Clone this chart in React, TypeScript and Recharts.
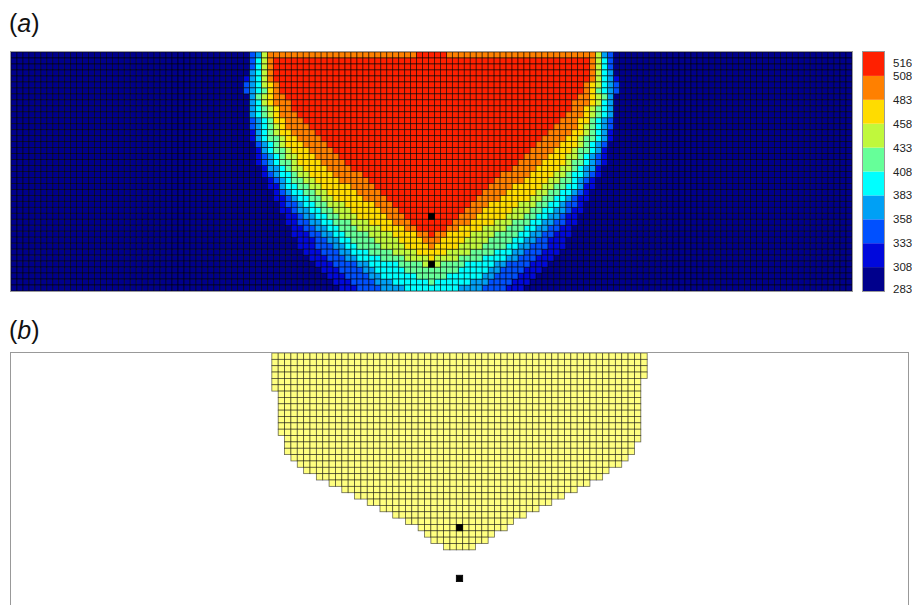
import React from 'react';
import { ScatterChart, Scatter, XAxis, YAxis, BarChart, Bar } from 'recharts';

const N_COLS = 141;
const N_ROWS = 40;
const MID_COL = 70;

// colour bar: tick labels (K) and the colour of each band between them
const tempTicks = [283, 308, 333, 358, 383, 408, 433, 458, 483, 508, 516];
const bandColors = ['#00008c', '#0008dc', '#0050ff', '#00a0f5', '#00ffff', '#66ff99', '#c0f83c', '#ffdc00', '#ff8000', '#ff2000'];

// first column (left side) where each isotherm is exceeded, per row; right side mirrors about column 70
// null = the row never reaches that temperature
const iso308 = [40, 40, 40, 40, 39, 39, 39, 40, 40, 40, 40, 40, 40, 40, 40, 41, 41, 41, 41, 42, 42, 43, 43, 44, 44, 45, 45, 46, 46, 47, 47, 48, 48, 49, 50, 51, 52, 53, 54, 55];
const iso333 = [40, 40, 40, 40, 40, 39, 39, 40, 40, 40, 40, 40, 40, 41, 41, 41, 42, 42, 42, 43, 43, 44, 45, 45, 46, 46, 47, 48, 48, 49, 50, 51, 51, 52, 53, 54, 55, 56, 57, 58];
const iso358 = [41, 41, 41, 40, 40, 40, 40, 40, 40, 40, 40, 41, 41, 41, 41, 42, 42, 43, 43, 43, 44, 45, 45, 46, 47, 48, 48, 49, 50, 51, 52, 53, 54, 55, 56, 58, 59, 60, 61, 62];
const iso383 = [42, 41, 41, 41, 41, 41, 41, 41, 41, 41, 41, 42, 42, 42, 42, 43, 43, 44, 44, 45, 45, 46, 46, 47, 48, 49, 50, 51, 52, 53, 54, 55, 56, 57, 58, 60, 61, 62, 64, 66];
const iso408 = [42, 42, 42, 42, 42, 42, 42, 41, 42, 42, 42, 43, 43, 43, 43, 44, 44, 45, 45, 46, 47, 47, 48, 49, 50, 51, 52, 53, 54, 55, 56, 57, 58, 60, 62, 65, 66, 68, 70, null];
const iso433 = [42, 42, 42, 42, 42, 42, 43, 42, 42, 43, 43, 44, 44, 44, 45, 45, 46, 46, 47, 47, 48, 49, 50, 51, 52, 53, 54, 55, 57, 58, 60, 61, 62, 64, 66, 69, null, null, null, null];
const iso458 = [43, 43, 43, 43, 43, 43, 43, 43, 43, 44, 44, 44, 45, 45, 46, 46, 47, 48, 48, 49, 50, 51, 52, 53, 54, 56, 57, 58, 60, 62, 64, 65, 66, 68, 70, null, null, null, null, null];
const iso483 = [43, 43, 43, 43, 43, 44, 44, 44, 44, 45, 45, 46, 46, 47, 48, 49, 50, 51, 52, 53, 54, 55, 57, 58, 59, 61, 62, 63, 64, 66, 68, 69, 70, null, null, null, null, null, null, null];
const iso508 = [68, 44, 44, 44, 44, 45, 45, 46, 47, 47, 48, 49, 50, 51, 52, 53, 54, 55, 56, 57, 59, 60, 61, 62, 63, 64, 65, 66, 67, 68, 70, null, null, null, null, null, null, null, null, null];

// panel (b): first / last yellow column per row
const meltStart = [41, 41, 41, 41, 41, 41, 42, 42, 42, 42, 42, 42, 42, 43, 43, 43, 44, 45, 46, 48, 50, 52, 54, 56, 58, 60, 62, 64, 65, 66, 68];
const meltEnd = [99, 99, 99, 99, 98, 98, 98, 98, 98, 98, 98, 98, 98, 98, 97, 97, 96, 95, 93, 92, 90, 88, 86, 84, 82, 80, 78, 77, 75, 74, 72];

// probe points (row index, on the centre column)
const probeRows = [27, 35];

const isotherms = [iso308, iso333, iso358, iso383, iso408, iso433, iso458, iso483, iso508];

const fieldCells: { x: number; y: number }[][] = bandColors.map(() => []);
for (let r = 0; r < N_ROWS; r++) {
  for (let c = 0; c < N_COLS; c++) {
    let lvl = 0;
    isotherms.forEach((iso) => {
      const s = iso[r];
      if (s !== null && c >= s && c <= 2 * MID_COL - s) lvl++;
    });
    fieldCells[lvl].push({ x: c + 0.5, y: r + 0.5 });
  }
}

const meltCells: { x: number; y: number }[] = [];
meltStart.forEach((s, r) => {
  for (let c = s; c <= meltEnd[r]; c++) meltCells.push({ x: c + 0.5, y: r + 0.5 });
});

const probes = probeRows.map((r) => ({ x: MID_COL + 0.5, y: r + 0.5 }));

const A_W = 841, A_H = 239;
const B_W = 897, B_H = 254;

const cellShape = (w: number, h: number, color: string, edgeOpacity: number) => (props: any) => (
  <rect
    x={props.cx - w / 2}
    y={props.cy - h / 2}
    width={w}
    height={h}
    fill={color}
    stroke="#000"
    strokeOpacity={edgeOpacity}
    strokeWidth={0.8}
  />
);

const FONT = '"Liberation Sans", Arial, sans-serif';

const PanelLabel = ({ letter, top }: { letter: string; top: number }) => (
  <div style={{ position: 'absolute', left: 9, top, fontFamily: FONT, fontSize: 25, lineHeight: 1, color: '#111' }}>
    (<i>{letter}</i>)
  </div>
);

const ColorbarTick = (props: any) => {
  const { y, payload } = props;
  let shift = 0;
  if (payload.value === tempTicks.length - 1) shift = 11;
  if (payload.value === 0) shift = -2;
  return (
    <text x={30} y={y + shift} dy={4} textAnchor="start" fontSize={11.5} fontFamily={FONT} fill="#222">
      {tempTicks[payload.value]}
    </text>
  );
};

const colorbarData = [bandColors.reduce((acc, _, i) => ({ ...acc, [`b${i}`]: 1 }), { name: 'T' } as any)];

const box = (left: number, top: number, width: number, height: number): React.CSSProperties => ({
  position: 'absolute', left, top, width, height, border: '1px solid #999', boxSizing: 'border-box', pointerEvents: 'none',
});

export default function App() {
  return (
    <div style={{ position: 'absolute', left: 0, top: 0, width: 912, height: 605, overflow: 'hidden', background: '#fff' }}>
      <PanelLabel letter="a" top={11} />

      <div style={{ position: 'absolute', left: 11, top: 52 }}>
        <ScatterChart width={A_W} height={A_H} margin={{ top: 0, right: 0, bottom: 0, left: 0 }}>
          <XAxis type="number" dataKey="x" domain={[0, N_COLS]} hide />
          <YAxis type="number" dataKey="y" domain={[0, N_ROWS]} reversed hide />
          {fieldCells.map((cells, i) => (
            <Scatter
              key={i}
              data={cells}
              isAnimationActive={false}
              shape={cellShape(A_W / N_COLS, A_H / N_ROWS, bandColors[i], 0.7)}
            />
          ))}
          <Scatter data={probes} isAnimationActive={false} shape={cellShape(A_W / N_COLS, A_H / N_ROWS, '#000', 1)} />
        </ScatterChart>
      </div>
      <div style={box(10, 51, 843, 241)} />

      <div style={{ position: 'absolute', left: 863, top: 52 }}>
        <BarChart width={49} height={A_H + 12} data={colorbarData} margin={{ top: 0, right: 0, bottom: 12, left: 0 }} barCategoryGap={0}>
          <XAxis dataKey="name" hide />
          <YAxis
            orientation="right"
            type="number"
            domain={[0, bandColors.length]}
            ticks={tempTicks.map((_, i) => i)}
            interval={0}
            width={28}
            axisLine={false}
            tickLine={false}
            tick={<ColorbarTick />}
          />
          {bandColors.map((col, i) => (
            <Bar key={i} dataKey={`b${i}`} stackId="cb" fill={col} isAnimationActive={false} />
          ))}
        </BarChart>
      </div>
      <div style={box(862, 51, 23, 241)} />

      <PanelLabel letter="b" top={318} />

      <div style={{ position: 'absolute', left: 11, top: 353 }}>
        <ScatterChart width={B_W} height={B_H} margin={{ top: 0, right: 0, bottom: 0, left: 0 }}>
          <XAxis type="number" dataKey="x" domain={[0, N_COLS]} hide />
          <YAxis type="number" dataKey="y" domain={[0, N_ROWS]} reversed hide />
          <Scatter data={meltCells} isAnimationActive={false} shape={cellShape(B_W / N_COLS, B_H / N_ROWS, '#ffff80', 0.6)} />
          <Scatter data={probes} isAnimationActive={false} shape={cellShape(B_W / N_COLS, B_H / N_ROWS, '#000', 1)} />
        </ScatterChart>
      </div>
      <div style={box(10, 352, 899, 260)} />
    </div>
  );
}
